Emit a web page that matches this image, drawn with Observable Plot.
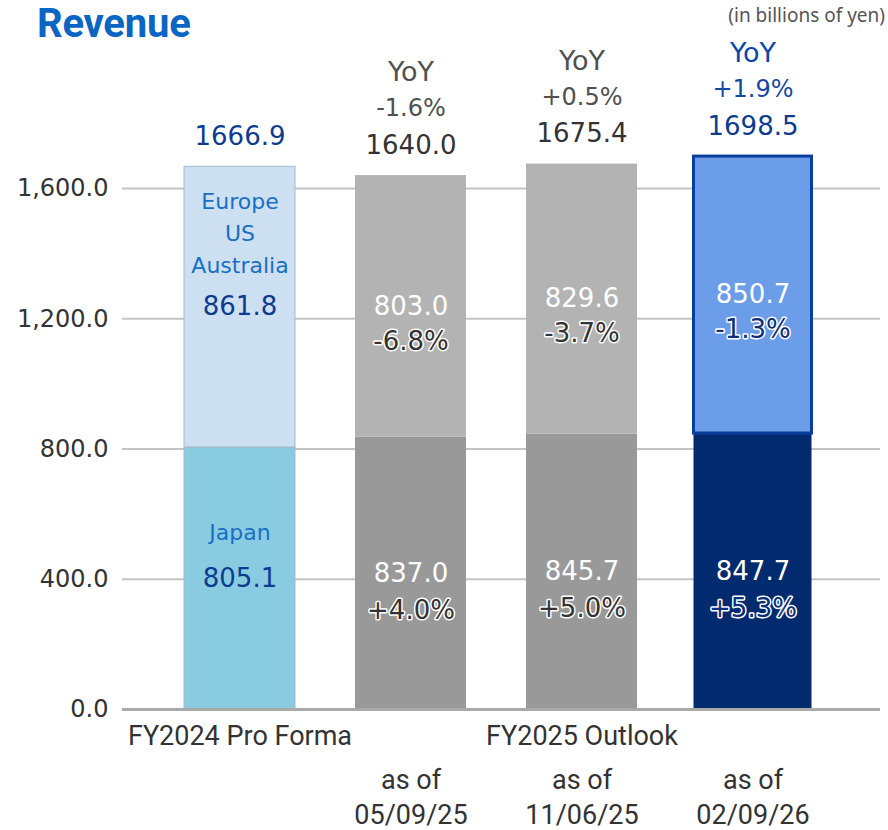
<!DOCTYPE html>
<html>
<head>
<meta charset="utf-8">
<script src="https://cdn.jsdelivr.net/npm/d3@7"></script>
<script src="https://cdn.jsdelivr.net/npm/@observablehq/plot@0.6"></script>
<style>
  html, body { margin: 0; padding: 0; background: #fff; }
  #wrap { position: relative; width: 888px; height: 830px; overflow: hidden; }
  #title { position: absolute; left: 37px; top: 0px; line-height: normal; font-family: Roboto, "DejaVu Sans", sans-serif; font-weight: 700; font-size: 40px; color: #0a66c2; letter-spacing: -0.2px; }
  #unit { position: absolute; right: 3px; top: 4px; line-height: 1.2; font-family: "Noto Sans", "DejaVu Sans", sans-serif; font-size: 19px; color: #555; }
  #chart { position: absolute; left: 0; top: 0; }
</style>
</head>
<body>
<div id="wrap">
  <div id="chart"></div>
  <div id="title">Revenue</div>
  <div id="unit">(in billions of yen)</div>
</div>
<script>
// ---- data ----
const categories = ["FY2024 Pro Forma", "Outlook 05/09/25", "Outlook 11/06/25", "Outlook 02/09/26"];
const japan = [805.1, 837.0, 845.7, 847.7];
const overseas = [861.8, 803.0, 829.6, 850.7];
const totals = [1666.9, 1640.0, 1675.4, 1698.5];
const yoyTotal = [null, "-1.6%", "+0.5%", "+1.9%"];
const yoyOverseas = [null, "-6.8%", "-3.7%", "-1.3%"];
const yoyJapan = [null, "+4.0%", "+5.0%", "+5.3%"];
const xLabels = ["FY2024 Pro Forma", "", "FY2025 Outlook", ""];
const asOfDates = [null, "05/09/25", "11/06/25", "02/09/26"];
const regionNames = ["Europe\nUS\nAustralia", "Japan"];
const yTicks = [0, 400, 800, 1200, 1600];

// ---- styles ----
const bottomFill = ["#89cce2", "#999999", "#999999", "#012b6e"];
const topFill = ["#cde0f1", "#b3b3b3", "#b3b3b3", "#6b9de8"];
const FONT = "DejaVu Sans, Verdana, sans-serif";
const NAVY = "#0d3c8f";

const rows = [];
categories.forEach((c, i) => {
  rows.push({cat: c, i, seg: "Japan", value: japan[i], fill: bottomFill[i]});
  rows.push({cat: c, i, seg: "Overseas", value: overseas[i], fill: topFill[i]});
});
const lab = categories.map((c, i) => ({
  cat: c, i,
  total: totals[i],
  jMid: japan[i] / 2,
  oMid: japan[i] + overseas[i] / 2,
  yoyT: yoyTotal[i], yoyO: yoyOverseas[i], yoyJ: yoyJapan[i],
  xl: xLabels[i], asof: asOfDates[i]
}));
const fmt = d3.format(".1f");

const plot = Plot.plot({
  width: 888,
  height: 830,
  marginTop: 123,
  marginBottom: 121,
  marginLeft: 122,
  marginRight: 8,
  style: {fontFamily: FONT, background: "transparent"},
  x: {domain: categories, range: [122, 870], padding: 0.35, axis: null},
  y: {domain: [0, 1800], axis: null},
  marks: [
    Plot.ruleY(yTicks.filter(d => d > 0), {stroke: "#c4c4c4", strokeWidth: 2}),
    // bars 1-3
    Plot.barY(rows.filter(d => d.i < 3), {x: "cat", y: "value", fill: "fill",
      stroke: d => d.i === 0 ? "#a7b8c8" : "none", strokeWidth: 1}),
    // bar 4 (slightly wider, outlined top)
    Plot.barY(rows.filter(d => d.i === 3), {x: "cat", y: "value", fill: "fill",
      insetLeft: -3.5, insetRight: -3.5,
      stroke: d => d.seg === "Overseas" ? "#0a3d9c" : "none", strokeWidth: 3}),
    Plot.ruleY([0], {stroke: "#aaaaaa", strokeWidth: 3}),
    // y axis labels
    Plot.axisY(yTicks, {tickFormat: d3.format(",.1f"), tickSize: 0, tickPadding: 14,
      fontSize: 24, fill: "#333", fontFamily: FONT}),
    // totals above bars
    Plot.text(lab, {x: "cat", y: "total", text: d => fmt(d.total), dy: -30, fontSize: 26,
      fill: d => (d.i === 0 || d.i === 3) ? NAVY : "#333", stroke: "white", strokeWidth: 4}),
    Plot.text(lab.filter(d => d.yoyT), {x: "cat", y: "total", text: "yoyT", dy: -67, fontSize: 24,
      letterSpacing: 1.5,
      fill: d => d.i === 3 ? "#1747a6" : "#505050", stroke: "white", strokeWidth: 4}),
    Plot.text(lab.filter(d => d.yoyT), {x: "cat", y: "total", text: d => "YoY", dy: -103, fontSize: 27,
      fill: d => d.i === 3 ? "#0b47a8" : "#505050"}),
    // overseas segment
    Plot.text(lab, {x: "cat", y: "oMid", text: d => fmt(overseas[d.i]), fontSize: 26, letterSpacing: 1,
      fill: d => d.i === 0 ? NAVY : "white"}),
    Plot.text(lab.filter(d => d.yoyO), {x: "cat", y: "oMid", text: "yoyO", dy: 35, fontSize: 26,
      fill: d => d.i === 3 ? "#0b2f7a" : "#333", stroke: "white", strokeWidth: 3}),
    Plot.text(lab.filter(d => d.i === 0), {x: "cat", y: "oMid", text: d => regionNames[0], dy: -76,
      fontSize: 22, lineHeight: 1.45, fill: "#1a6fc4"}),
    // japan segment
    Plot.text(lab, {x: "cat", y: "jMid", text: d => fmt(japan[d.i]), fontSize: 26, letterSpacing: 1,
      fill: d => d.i === 0 ? NAVY : "white"}),
    Plot.text(lab.filter(d => d.yoyJ), {x: "cat", y: "jMid", text: "yoyJ", dy: 37, fontSize: 26,
      fill: d => d.i === 3 ? "#0b2f7a" : "#333", stroke: "white", strokeWidth: 3}),
    Plot.text(lab.filter(d => d.i === 0), {x: "cat", y: "jMid", text: d => regionNames[1], dy: -45,
      fontSize: 22, fill: "#1a6fc4"}),
    // x labels
    Plot.text(lab.filter(d => d.xl), {x: "cat", y: () => 0, text: "xl", dy: 27, fontSize: 27,
      fontFamily: "Roboto, sans-serif", fill: "#333"}),
    Plot.text(lab.filter(d => d.asof), {x: "cat", y: () => 0, text: d => "as of", dy: 71, fontSize: 27,
      fontFamily: "Roboto, sans-serif", fill: "#333"}),
    Plot.text(lab.filter(d => d.asof), {x: "cat", y: () => 0, text: "asof", dy: 106, fontSize: 27,
      fontFamily: "Roboto, sans-serif", fill: "#333"})
  ]
});
document.getElementById("chart").appendChild(plot);
</script>
</body>
</html>
